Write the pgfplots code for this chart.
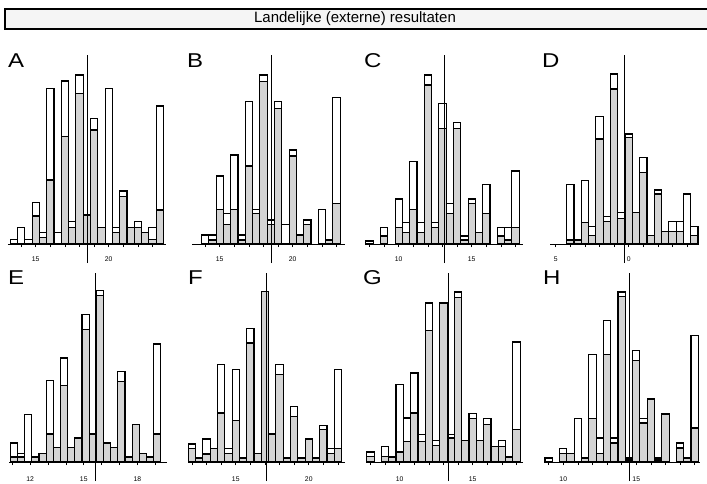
\documentclass[border=0pt]{standalone}
\usepackage{fontspec}
\setmainfont{Liberation Sans}
\newfontfamily\letterfont[FakeStretch=1.2]{Liberation Sans}
\usepackage{pgfplots}
\usepackage{pgfplotstable}
\pgfplotsset{compat=1.18}
\definecolor{bargrey}{gray}{0.83}

% x = class value, t = total bar height, g = grey (lower) part
\pgfplotstableread{
x t g
13.5 14 0
14 49 0
14.5 14 0
15 124 84
15.5 34 20
16 467 192
16.5 34 0
17 489 322
17.5 67 50
18 507 452
18.5 87 87
19 377 342
19.5 50 50
20 467 0
20.5 50 34
21 159 142
21.5 50 50
22 67 50
22.5 34 34
23 50 14
23.5 414 102
}\tabA
\pgfplotstableread{
x t g
14 27 0
14.5 27 12
15 204 104
15.5 92 59
16 267 104
16.5 27 12
17 427 234
17.5 104 92
18 507 487
18.5 72 59
19 427 407
19.5 59 0
20 282 264
20.5 27 27
21 72 59
22 104 0
22.5 12 12
23 440 122
}\tabB
\pgfplotstableread{
x t g
8 9 0
9 50 24
10 135 50
10.5 64 35
11 247 104
11.5 64 35
12 507 477
12.5 64 50
13 422 347
13.5 122 92
14 364 347
14.5 24 12
15 135 122
15.5 35 35
16 179 92
17 50 24
17.5 50 12
18 219 50
}\tabC
\pgfplotstableread{
x t g
-4 178 12
-3.5 12 12
-3 190 65
-2.5 53 25
-2 383 315
-1.5 82 67
-1 510 465
-0.5 95 77
0 330 320
0.5 95 95
1 260 215
1.5 25 25
2 162 150
2.5 38 38
3 67 38
3.5 67 38
4 150 0
4.5 53 25
}\tabD
\pgfplotstableread{
x t g
11.1 57 15
11.5 25 15
11.9 142 0
12.3 15 15
12.7 25 25
13.1 244 84
13.5 44 44
13.9 312 229
14.3 44 44
14.7 72 72
15.1 442 397
15.5 84 84
15.9 514 500
16.3 57 57
16.7 44 44
17.1 272 242
17.5 15 15
17.9 112 112
18.3 25 25
18.7 15 15
19.1 354 84
}\tabE
\pgfplotstableread{
x t g
12 54 40
12.5 12 12
13 69 24
13.5 40 40
14 292 147
14.5 40 25
15 277 124
15.5 12 12
16 400 357
16.5 25 25
17 512 512
17.5 84 84
18 292 262
18.5 12 12
19 167 137
19.5 12 12
20 69 69
20.5 12 12
21 110 97
21.5 40 25
22 277 40
}\tabF
\pgfplotstableread{
x t g
8 30 17
9 47 17
9.5 15 15
10 232 30
10.5 132 62
11 267 147
11.5 82 62
12 477 394
12.5 64 50
13 477 477
13.5 82 72
14 510 494
14.5 64 64
15 145 130
15.5 64 64
16 130 112
16.5 47 47
17 64 47
17.5 15 15
18 360 97
}\tabG
\pgfplotstableread{
x t g
9 12 0
10 40 25
10.5 25 25
11 130 0
11.5 12 12
12 322 130
12.5 72 25
13 424 322
13.5 72 57
14 510 497
14.5 12 6
15 334 304
15.5 130 117
16 189 189
16.5 12 6
17 144 144
18 57 42
18.5 12 12
19 379 102
}\tabH

\pgfplotsset{
 panel/.style={
  x=14.6pt, y=0.33333pt,
  ymin=0, ymax=567,
  axis x line=bottom, axis y line=none,
  axis line style={-, line width=0.9pt},
  tick align=outside,
  major tick length=3pt, minor tick length=3pt,
  every tick/.style={black, line width=0.7pt},
  ytick=\empty,
  clip=false,
  anchor=south west,
  xticklabel style={font=\fontsize{6.8}{7}\selectfont, yshift=-6pt},
  /pgf/number format/assume math mode=true,
 },
 totbar/.style={ybar, bar width=0.5, bar shift=0pt, fill=white, draw=black, line width=1.15pt},
 greybar/.style={ybar, bar width=0.5, bar shift=0pt, fill=bargrey, draw=black, line width=1.15pt},
 meanline/.style={black, line width=1pt, mark=none},
}
\newcommand{\panelletter}[3]{\node[anchor=base west, inner sep=0pt] at (#1,#2) {\letterfont\fontsize{20}{20}\selectfont #3};}

\begin{document}
\begin{tikzpicture}
\path[use as bounding box] (0,0) rectangle (707pt,483pt);
% title box
\draw[line width=1.2pt, fill=black!4] (5pt,474pt) rectangle (712pt,454pt);
\node at (355pt,464pt) {\fontsize{15}{17}\selectfont Landelijke (externe) resultaten};

% panel letters
\panelletter{8pt}{415pt}{A}
\panelletter{187pt}{415pt}{B}
\panelletter{364pt}{415pt}{C}
\panelletter{542pt}{415pt}{D}
\panelletter{8pt}{199pt}{E}
\panelletter{188pt}{199pt}{F}
\panelletter{363pt}{199pt}{G}
\panelletter{543pt}{199pt}{H}

% A
\begin{axis}[panel, at={(8pt,239pt)}, xmin=13.1, xmax=23.9,
  xtick={15,20}, minor xtick={14,...,23}]
\addplot[totbar] table[x=x,y=t]{\tabA};
\addplot[greybar] table[x=x,y=g]{\tabA};
\addplot[meanline] coordinates {(18.57,-57) (18.57,567)};
\end{axis}
% B
\begin{axis}[panel, at={(192pt,239pt)}, xmin=13.1, xmax=23.55,
  xtick={15,20}, minor xtick={14,...,23}]
\addplot[totbar] table[x=x,y=t]{\tabB};
\addplot[greybar] table[x=x,y=g]{\tabB};
\addplot[meanline] coordinates {(18.55,-57) (18.55,567)};
\end{axis}
% C
\begin{axis}[panel, at={(365pt,239pt)}, xmin=7.69, xmax=18.53,
  xtick={10,15}, minor xtick={8,...,18}]
\addplot[totbar] table[x=x,y=t]{\tabC};
\addplot[greybar] table[x=x,y=g]{\tabC};
\addplot[meanline] coordinates {(13.12,-57) (13.12,567)};
\end{axis}
% D
\begin{axis}[panel, at={(550pt,239pt)}, xmin=-5.39, xmax=4.77,
  xtick={-5,0}, xticklabels={5,0}, minor xtick={-5,...,4}]
\addplot[totbar] table[x=x,y=t]{\tabD};
\addplot[greybar] table[x=x,y=g]{\tabD};
\addplot[meanline] coordinates {(-0.27,-57) (-0.27,567)};
\end{axis}
% E
\begin{axis}[panel, x=17.9pt, at={(9.3pt,21pt)}, xmin=10.84, xmax=19.64,
  xtick={12,15,18}, minor xtick={11,...,19}, xticklabel style={yshift=-2pt}]
\addplot[totbar, bar width=0.4] table[x=x,y=t]{\tabE};
\addplot[greybar, bar width=0.4] table[x=x,y=g]{\tabE};
\addplot[meanline] coordinates {(15.63,-57) (15.63,567)};
\end{axis}
% F
\begin{axis}[panel, at={(188.3pt,21pt)}, xmin=11.75, xmax=22.49,
  xtick={15,20}, minor xtick={12,...,22}, xticklabel style={yshift=-2pt}]
\addplot[totbar] table[x=x,y=t]{\tabF};
\addplot[greybar] table[x=x,y=g]{\tabF};
\addplot[meanline] coordinates {(17.12,-57) (17.12,567)};
\end{axis}
% G
\begin{axis}[panel, at={(366.7pt,21pt)}, xmin=7.74, xmax=18.47,
  xtick={10,15}, minor xtick={8,...,18}, xticklabel style={yshift=-2pt}]
\addplot[totbar] table[x=x,y=t]{\tabG};
\addplot[greybar] table[x=x,y=g]{\tabG};
\addplot[meanline] coordinates {(13.33,-57) (13.33,567)};
\end{axis}
% H
\begin{axis}[panel, at={(545pt,21pt)}, xmin=8.75, xmax=19.36,
  xtick={10,15}, minor xtick={9,...,19}, xticklabel style={yshift=-2pt}]
\addplot[totbar] table[x=x,y=t]{\tabH};
\addplot[greybar] table[x=x,y=g]{\tabH};
\addplot[meanline] coordinates {(14.52,-57) (14.52,567)};
\end{axis}
\end{tikzpicture}
\end{document}
